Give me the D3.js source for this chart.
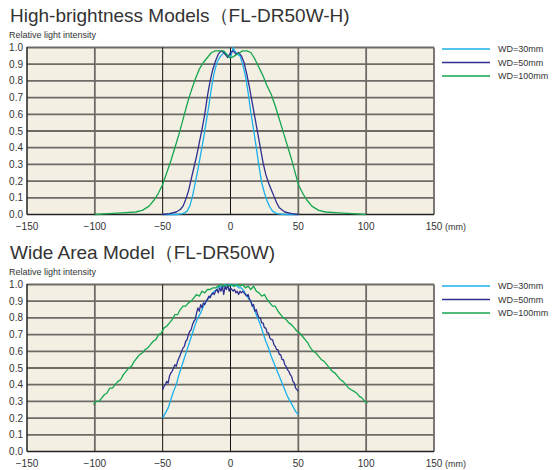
<!DOCTYPE html>
<html>
<head>
<meta charset="utf-8">
<script src="https://cdn.jsdelivr.net/npm/d3@7"></script>
<style>
  body { margin: 0; background: #fff; }
  text { font-family: "Liberation Sans", Arial, sans-serif; fill: #333; }
</style>
</head>
<body>
<div id="chart"></div>
<script>
// ---- data (position in mm, relative intensity) ----
const xTicks = [-150, -100, -50, 0, 50, 100, 150];
const yTicks = [0, 0.1, 0.2, 0.3, 0.4, 0.5, 0.6, 0.7, 0.8, 0.9, 1.0];
const seriesNames = ["WD=30mm", "WD=50mm", "WD=100mm"];
const seriesColors = ["#1cb0ea", "#2e2f8f", "#16a64f"];

// High-brightness Models
const hbWD30 = [[-50,0],[-40,0],[-35,0.005],[-32,0.02],[-30,0.05],[-28,0.11],[-26,0.19],[-24,0.27],[-22,0.36],[-20,0.45],[-18,0.55],[-16,0.65],[-14,0.76],[-12,0.85],[-10,0.91],[-8,0.94],[-6,0.96],[-4,0.97],[-2,0.95],[0,0.94],[1,0.97],[2,1.0],[3,0.98],[5,0.96],[7,0.95],[9,0.9],[11,0.83],[13,0.73],[15,0.61],[17,0.51],[19,0.40],[21,0.29],[23,0.19],[25,0.13],[27,0.08],[29,0.045],[31,0.02],[34,0.005],[40,0],[50,0]];
const hbWD50 = [[-50,0],[-45,0.005],[-40,0.015],[-37,0.03],[-35,0.05],[-33,0.09],[-31,0.14],[-29,0.21],[-27,0.28],[-25,0.35],[-23,0.43],[-21,0.51],[-19,0.60],[-17,0.71],[-15,0.80],[-13,0.87],[-11,0.92],[-9,0.96],[-7,0.98],[-5,0.97],[-3,0.95],[-2,0.94],[0,0.97],[2,0.98],[4,0.96],[6,0.97],[8,0.95],[10,0.91],[12,0.84],[14,0.76],[16,0.67],[18,0.58],[20,0.49],[22,0.40],[24,0.31],[26,0.24],[28,0.19],[30,0.15],[32,0.11],[34,0.07],[36,0.04],[40,0.015],[45,0.005],[50,0]];
const hbWD100 = [[-100,0],[-90,0.005],[-80,0.01],[-70,0.015],[-65,0.025],[-60,0.05],[-56,0.09],[-53,0.13],[-50,0.18],[-47,0.25],[-44,0.32],[-41,0.40],[-38,0.48],[-35,0.57],[-32,0.66],[-29,0.74],[-26,0.81],[-23,0.87],[-20,0.91],[-17,0.94],[-14,0.97],[-11,0.98],[-8,0.98],[-5,0.98],[-3,0.96],[-1,0.94],[1,0.94],[3,0.95],[5,0.96],[7,0.97],[9,0.98],[12,0.98],[15,0.97],[18,0.93],[21,0.88],[24,0.83],[27,0.77],[30,0.72],[33,0.65],[36,0.57],[39,0.49],[42,0.41],[45,0.33],[48,0.24],[50,0.18],[53,0.13],[56,0.09],[60,0.05],[65,0.025],[70,0.015],[80,0.01],[90,0.005],[100,0]];

// Wide Area Model
const waWD30 = [[-50,0.20],[-48,0.23],[-46,0.26],[-44,0.31],[-42,0.36],[-40,0.40],[-38,0.46],[-36,0.51],[-34,0.56],[-32,0.61],[-30,0.66],[-28,0.71],[-26,0.76],[-24,0.80],[-22,0.83],[-20,0.87],[-18,0.90],[-16,0.92],[-14,0.94],[-12,0.96],[-10,0.97],[-8,0.99],[-6,0.98],[-4,1.0],[-2,0.99],[0,1.0],[2,0.99],[4,1.0],[6,0.98],[8,0.98],[10,0.96],[12,0.93],[14,0.91],[16,0.88],[18,0.84],[20,0.80],[22,0.76],[24,0.71],[26,0.66],[28,0.62],[30,0.57],[32,0.53],[34,0.49],[36,0.45],[38,0.41],[40,0.37],[42,0.33],[44,0.30],[46,0.27],[48,0.24],[50,0.22]];
const waWD50 = [[-50,0.37],[-49,0.39],[-48,0.40],[-47,0.42],[-46,0.41],[-45,0.45],[-44,0.47],[-43,0.48],[-42,0.50],[-41,0.52],[-40,0.51],[-39,0.54],[-38,0.56],[-37,0.58],[-36,0.60],[-35,0.62],[-34,0.63],[-33,0.66],[-32,0.67],[-31,0.70],[-30,0.72],[-29,0.73],[-28,0.76],[-27,0.78],[-26,0.79],[-25,0.83],[-24,0.86],[-23,0.84],[-22,0.88],[-21,0.86],[-20,0.89],[-19,0.88],[-18,0.90],[-17,0.91],[-16,0.93],[-15,0.92],[-14,0.94],[-13,0.95],[-12,0.94],[-11,0.96],[-10,0.97],[-9,0.95],[-8,0.98],[-7,0.96],[-6,0.99],[-5,0.94],[-4,0.99],[-3,0.97],[-2,1.0],[-1,0.96],[0,0.98],[1,0.97],[2,0.96],[3,0.97],[4,0.95],[5,0.96],[6,0.94],[7,0.96],[8,0.95],[9,0.96],[10,0.95],[11,0.94],[12,0.93],[13,0.94],[14,0.91],[15,0.90],[16,0.87],[17,0.88],[18,0.84],[19,0.85],[20,0.82],[21,0.80],[22,0.80],[23,0.77],[24,0.77],[25,0.74],[26,0.74],[27,0.71],[28,0.71],[29,0.68],[30,0.67],[31,0.67],[32,0.64],[33,0.63],[34,0.61],[35,0.61],[36,0.58],[37,0.58],[38,0.55],[39,0.55],[40,0.52],[41,0.51],[42,0.49],[43,0.48],[44,0.46],[45,0.45],[46,0.42],[47,0.41],[48,0.38],[49,0.37],[50,0.36]];
const waWD100 = [[-101,0.28],[-99,0.30],[-97,0.30],[-95,0.32],[-93,0.34],[-91,0.35],[-89,0.38],[-87,0.38],[-85,0.40],[-83,0.42],[-81,0.43],[-79,0.46],[-77,0.48],[-75,0.50],[-73,0.51],[-71,0.54],[-69,0.56],[-67,0.58],[-65,0.59],[-63,0.61],[-61,0.62],[-59,0.64],[-57,0.66],[-55,0.67],[-53,0.70],[-51,0.71],[-49,0.74],[-47,0.75],[-45,0.77],[-43,0.79],[-41,0.82],[-39,0.82],[-37,0.85],[-35,0.87],[-33,0.87],[-31,0.89],[-29,0.90],[-27,0.92],[-25,0.94],[-23,0.93],[-21,0.96],[-19,0.95],[-17,0.97],[-15,0.97],[-13,0.98],[-11,0.98],[-9,0.99],[-7,1.0],[-5,0.99],[-3,1.0],[-1,0.99],[1,1.0],[3,0.99],[5,1.0],[7,0.99],[9,1.0],[11,0.98],[13,0.99],[15,0.97],[17,0.99],[19,0.96],[21,0.95],[23,0.93],[25,0.94],[27,0.91],[29,0.89],[31,0.87],[33,0.87],[35,0.84],[37,0.82],[39,0.80],[41,0.79],[43,0.77],[45,0.76],[47,0.74],[49,0.72],[51,0.71],[53,0.69],[55,0.67],[57,0.65],[59,0.62],[61,0.60],[63,0.59],[65,0.57],[67,0.55],[69,0.54],[71,0.52],[73,0.50],[75,0.48],[77,0.47],[79,0.45],[81,0.43],[83,0.42],[85,0.40],[87,0.38],[89,0.37],[91,0.36],[93,0.35],[95,0.33],[97,0.32],[99,0.30],[101,0.29]];

const width = 556, height = 470;
const svg = d3.select("#chart").append("svg")
  .attr("width", width).attr("height", height);

const x = d3.scaleLinear().domain([-150, 150]).range([27, 434]);
const fmtX = d => d < 0 ? "\u2212" + Math.abs(d) : String(d);

function drawChart(top, title, series) {
  const y = d3.scaleLinear().domain([0, 1]).range([top + 167, top]);
  const g = svg.append("g");

  // title
  g.append("text").attr("x", 10).attr("y", top - 25.5)
    .style("font-size", "19px").text(title);
  g.append("text").attr("x", 9).attr("y", top - 10)
    .style("font-size", "9px").text("Relative light intensity");

  // plot background
  g.append("rect").attr("x", x(-150)).attr("y", y(1))
    .attr("width", x(150) - x(-150)).attr("height", y(0) - y(1))
    .attr("fill", "#f3f0e3");

  // horizontal grid
  g.selectAll("hgrid").data(yTicks.filter(d => d > 0)).enter()
    .append("line")
    .attr("x1", x(-150)).attr("x2", x(150))
    .attr("y1", d => y(d)).attr("y2", d => y(d))
    .attr("stroke", "#6e6b66").attr("stroke-width", 1.8);

  // vertical grid
  g.selectAll("vgrid").data(xTicks.filter(d => d > -150)).enter()
    .append("line")
    .attr("x1", d => x(d)).attr("x2", d => x(d))
    .attr("y1", y(1)).attr("y2", y(0))
    .attr("stroke", d => (d === 0 || d === -50) ? "#111" : "#6e6b66")
    .attr("stroke-width", d => (d === 0 || d === -50) ? 1 : 1.8);

  // left and bottom axis lines
  g.append("line").attr("x1", x(-150)).attr("x2", x(-150))
    .attr("y1", y(1) - 0.5).attr("y2", y(0)).attr("stroke", "#222").attr("stroke-width", 1.5);
  g.append("line").attr("x1", x(-150)).attr("x2", x(150))
    .attr("y1", y(0)).attr("y2", y(0)).attr("stroke", "#222").attr("stroke-width", 1.5);

  // tick labels
  g.selectAll("ylab").data(yTicks).enter().append("text")
    .attr("x", 23).attr("y", d => y(d) + 3.5)
    .attr("text-anchor", "end").style("font-size", "10px")
    .text(d => d.toFixed(1));
  g.selectAll("xlab").data(xTicks).enter().append("text")
    .attr("x", d => x(d)).attr("y", y(0) + 15)
    .attr("text-anchor", "middle").style("font-size", "10px")
    .text(fmtX);
  g.append("text").attr("x", x(150) + 11).attr("y", y(0) + 15)
    .style("font-size", "9px").text("(mm)");

  // curves
  const line = d3.line().x(d => x(d[0])).y(d => y(d[1]));
  series.forEach((s, i) => {
    g.append("path").datum(s).attr("d", line)
      .attr("fill", "none").attr("stroke", seriesColors[i])
      .attr("stroke-width", 1.3).attr("stroke-linejoin", "round");
  });

  // legend
  seriesNames.forEach((name, i) => {
    const ly = top + 1.5 + i * 13.5;
    g.append("line").attr("x1", 442).attr("x2", 490)
      .attr("y1", ly).attr("y2", ly)
      .attr("stroke", seriesColors[i]).attr("stroke-width", 1.3);
    g.append("text").attr("x", 498).attr("y", ly + 3.2)
      .style("font-size", "9px").text(name);
  });
}

drawChart(47.5, "High-brightness Models\uff08FL-DR50W-H)", [hbWD30, hbWD50, hbWD100]);
drawChart(284.5, "Wide Area Model\uff08FL-DR50W)", [waWD30, waWD50, waWD100]);
</script>
</body>
</html>
